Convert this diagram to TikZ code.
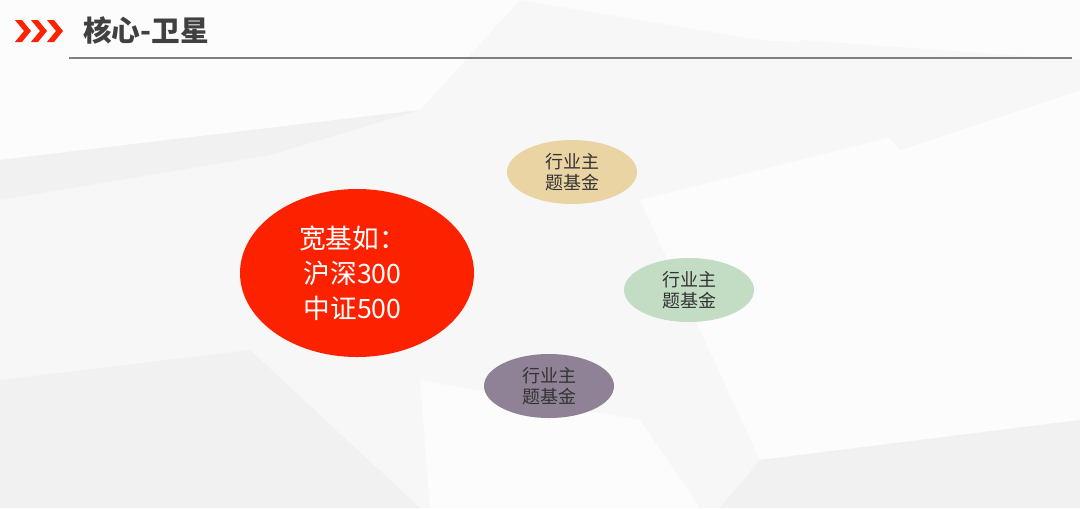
\documentclass[tikz,border=0pt]{standalone}
\usepackage{fontspec}
\setmainfont{Liberation Sans}
\newfontfamily\cjk{Noto Sans CJK SC}
\usetikzlibrary{shapes.geometric}
\definecolor{bgbase}{HTML}{F7F7F7}
\definecolor{facetA}{HTML}{FCFCFC}
\definecolor{facetB}{HTML}{F1F1F1}
\definecolor{coreRed}{HTML}{FC2200}
\definecolor{titleGray}{HTML}{404040}
\definecolor{ruleGray}{HTML}{7F7F7F}
\definecolor{tanFill}{HTML}{EAD4A4}
\definecolor{greenFill}{HTML}{C3DCC4}
\definecolor{purpleFill}{HTML}{8F8297}
\definecolor{satText}{HTML}{333333}
\newlength{\px}\setlength{\px}{0.75pt}
\tikzset{
  sat/.style={ellipse, minimum width=130\px, minimum height=64\px, inner sep=0pt,
    text=satText, font=\cjk\fontsize{13.5}{16}\selectfont, align=center},
}
\begin{document}
\begin{tikzpicture}[x=0.75pt,y=-0.75pt]
\useasboundingbox (0,0) rectangle (1080,508);
% background
\fill[bgbase] (0,0) rectangle (1080,508);
\fill[facetA] (0,0) -- (520,0) -- (420,110) -- (0,160) -- cycle;
\fill[facetA] (520,0) -- (1080,0) -- (1080,60) -- (760,40) -- cycle;
\fill[facetB] (0,160) -- (420,110) -- (270,155) -- (0,200) -- cycle;
\fill[facetA] (640,200) -- (1080,90) -- (1080,420) -- (760,460) -- cycle;
\fill[facetB] (0,380) -- (250,350) -- (420,508) -- (0,508) -- cycle;
\fill[facetA] (420,380) -- (640,420) -- (700,508) -- (430,508) -- cycle;
\fill[facetB] (760,460) -- (1080,420) -- (1080,508) -- (720,508) -- cycle;
\fill[facetB!60!white] (800,40) -- (1080,60) -- (1080,90) -- (900,150) -- cycle;
% header
\foreach \dx in {0,16,32}{
  \fill[coreRed] ({15+\dx},20) -- ({22+\dx},20) -- ({31+\dx},31) -- ({22+\dx},42) -- ({15+\dx},42) -- ({24+\dx},31) -- cycle;
}
\node[anchor=west, inner sep=0pt, text=titleGray, font=\cjk\bfseries\fontsize{21.5}{26}\selectfont] (title) at (83,30) {核心-卫星};
\coordinate (ruleL) at (69,58);
\coordinate (ruleR) at (1072,58);
\draw[ruleGray, line width=1.3pt] (ruleL) -- (ruleR);
% core
\node[ellipse, fill=coreRed, minimum width=234\px, minimum height=168\px, inner sep=0pt] (core) at (357,273) {};
\node[anchor=west, text=white, font=\cjk\fontsize{20}{26.3}\selectfont, align=left, inner sep=0pt] (coretext) at (299,273) {宽基如：\\\,沪深300\\\,中证500};
% satellites
\node[sat, fill=tanFill] (s1) at (572,172) {行业主\\题基金};
\node[sat, fill=greenFill] (s2) at (689,290) {行业主\\题基金};
\node[sat, fill=purpleFill] (s3) at (549,386) {行业主\\题基金};
\end{tikzpicture}
\end{document}
